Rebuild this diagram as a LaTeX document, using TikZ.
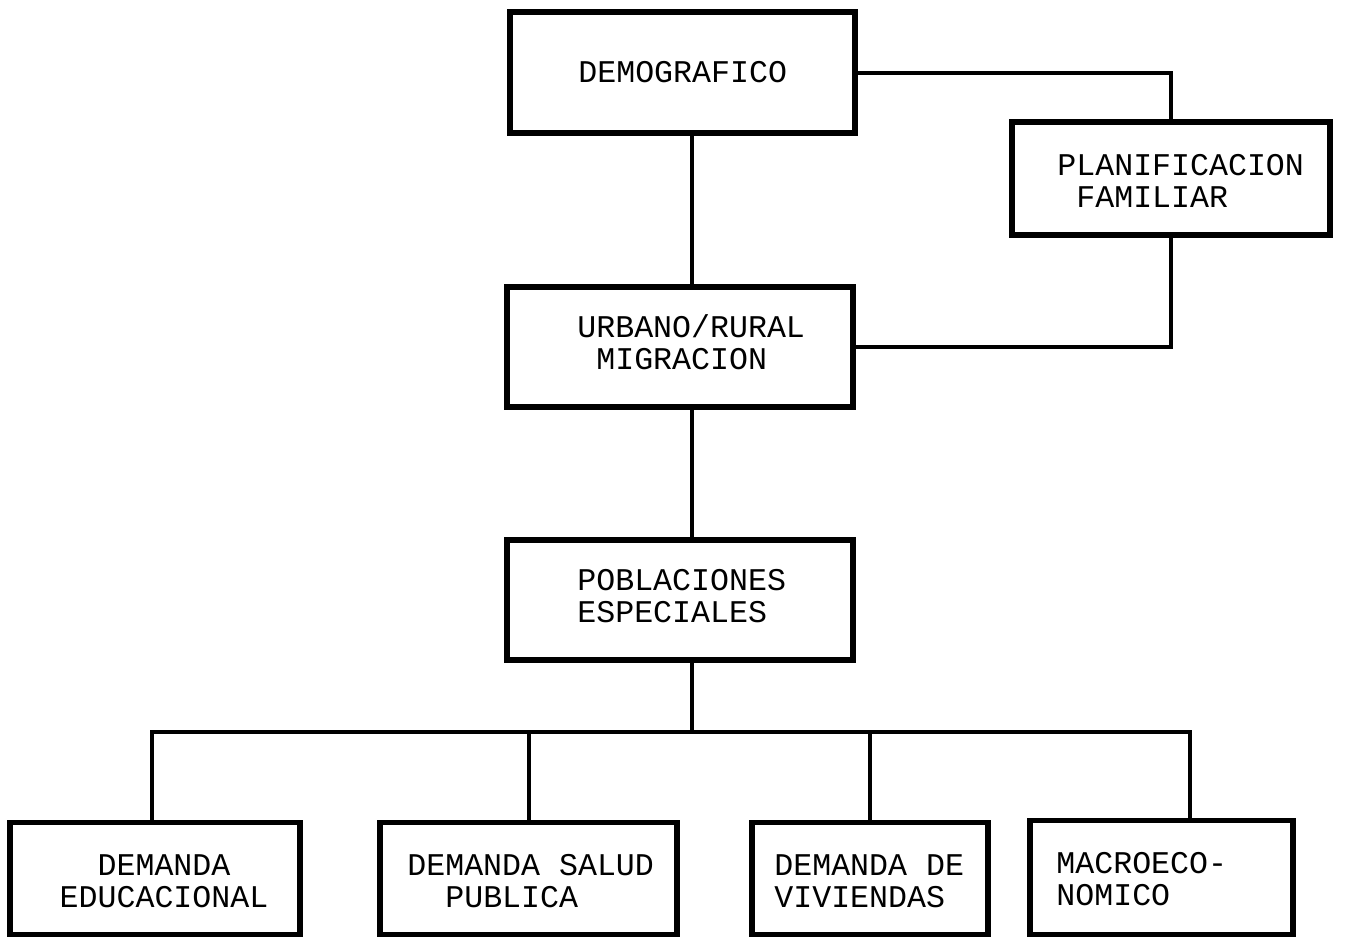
\documentclass[tikz,border=0pt]{standalone}
\usepackage{fontspec}
\setmonofont{Liberation Mono}
\begin{document}
\begin{tikzpicture}[x=0.5pt,y=-0.5pt,
  box/.style 2 args={draw, line width=2.6pt, inner sep=0pt, minimum width=#1*0.5pt, minimum height=#2*0.5pt},
  lbl/.style={font=\ttfamily\fontsize{15.8}{16}\selectfont, inner sep=0pt, anchor=west, align=left},
  conn/.style={line width=2pt, line join=miter}]
\useasboundingbox (0,0) rectangle (1360,937);
% boxes
\node[box={345}{121}] (demo) at (682.5,72.5) {};
\node[box={318}{113}] (plan) at (1171,178.5) {};
\node[box={346}{120}] (urb) at (680,347) {};
\node[box={346}{120}] (pob) at (680,600) {};
\node[box={290}{112}] (edu) at (155,878.5) {};
\node[box={297}{112}] (sal) at (528.5,878.5) {};
\node[box={236}{112}] (viv) at (870,878.5) {};
\node[box={263}{114}] (mac) at (1161.5,877.5) {};
% labels
\node[lbl] (tdemo) at (578,72) {DEMOGRAFICO};
\node[lbl] (tplan) at (1057,181) {PLANIFICACION\\\hphantom{X}FAMILIAR};
\node[lbl] (turb) at (577,342) {URBANO/RURAL\\\hphantom{X}MIGRACION};
\node[lbl] (tpob) at (577,596) {POBLACIONES\\ESPECIALES};
\node[font=\ttfamily\fontsize{15.8}{16}\selectfont, inner sep=0pt, align=center] (tedu) at (164,881) {DEMANDA\\EDUCACIONAL};
\node[lbl] (tsal) at (407,881) {DEMANDA SALUD\\\hphantom{XX}PUBLICA};
\node[lbl] (tviv) at (774,881) {DEMANDA DE\\VIVIENDAS};
\node[lbl] (tmac) at (1056,879) {MACROECO-\\NOMICO};
% connector helpers
\coordinate (spine) at (692,0);
\coordinate (busL) at (152,732);
\coordinate (busR) at (1190,732);
% connectors
\draw[conn] (demo.south -| spine) -- (urb.north -| spine);
\draw[conn] (urb.south -| spine) -- (pob.north -| spine);
\draw[conn] (pob.south -| spine) -- (spine |- busL);
\draw[conn] (demo.east) -| (plan.north);
\draw[conn] (plan.south) |- (urb.east);
\draw[conn] (edu.north -| busL) -- (busL) -- (busR) -- (mac.north -| busR);
\draw[conn] (sal.north) -- (sal.north |- busL);
\draw[conn] (viv.north) -- (viv.north |- busL);
\end{tikzpicture}
\end{document}
